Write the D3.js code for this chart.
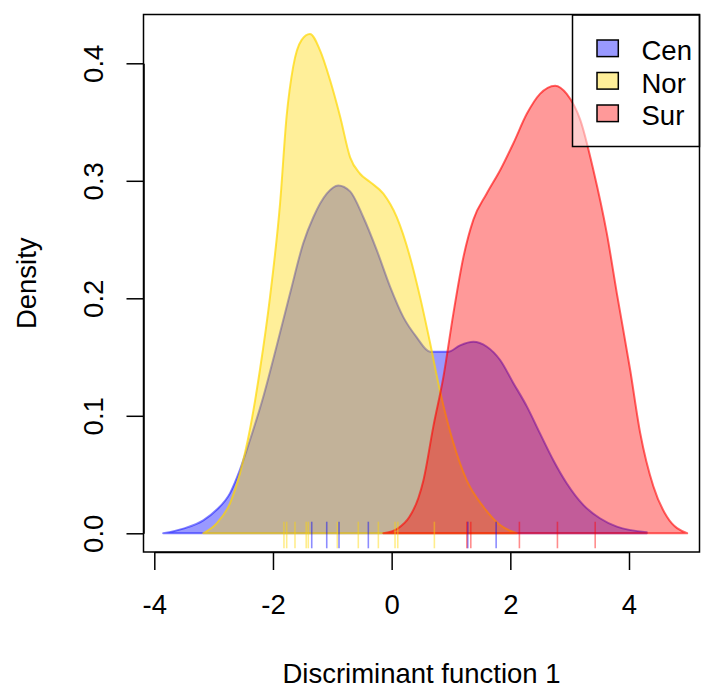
<!DOCTYPE html>
<html>
<head>
<meta charset="utf-8">
<script src="https://cdn.jsdelivr.net/npm/d3@7"></script>
<style>
  html, body { margin: 0; padding: 0; background: #fff; }
  svg { display: block; }
  text { font-family: "Liberation Sans", Arial, sans-serif; fill: #000; }
</style>
</head>
<body>
<svg id="chart" width="701" height="690"></svg>
<script>
// ---- data ----
const categories = ["Cen", "Nor", "Sur"];

const cenX = [-3.85, -3.51, -3.175, -2.95, -2.725, -2.557, -2.39, -2.164, -1.94, -1.713, -1.489, -1.32, -1.094, -0.90, -0.70, -0.477, -0.251, -0.027, 0.197, 0.42, 0.647, 0.956, 1.153, 1.378, 1.60, 1.828, 2.05, 2.278, 2.50, 2.727, 2.95, 3.233, 3.51, 3.795, 4.30];
const cenY = [0.0, 0.004, 0.011, 0.020, 0.034, 0.054, 0.079, 0.116, 0.159, 0.204, 0.247, 0.269, 0.289, 0.296, 0.291, 0.269, 0.241, 0.210, 0.184, 0.167, 0.1546, 0.1546, 0.160, 0.163, 0.159, 0.1475, 0.128, 0.108, 0.085, 0.062, 0.0426, 0.024, 0.0128, 0.0057, 0.001];

const norX = [-3.175, -2.95, -2.725, -2.557, -2.39, -2.22, -2.05, -1.88, -1.77, -1.66, -1.516, -1.376, -1.207, -1.04, -0.87, -0.70, -0.533, -0.364, -0.14, 0.086, 0.31, 0.479, 0.648, 0.816, 1.04, 1.266, 1.546, 1.828, 2.11];
const norY = [0.0, 0.0085, 0.0255, 0.051, 0.088, 0.139, 0.201, 0.281, 0.355, 0.397, 0.420, 0.425, 0.411, 0.386, 0.355, 0.320, 0.306, 0.299, 0.289, 0.269, 0.235, 0.201, 0.162, 0.121, 0.077, 0.045, 0.0226, 0.007, 0.0];

const surX = [-0.14, 0.10, 0.30, 0.45, 0.535, 0.703, 0.872, 1.04, 1.209, 1.378, 1.60, 1.828, 2.052, 2.278, 2.50, 2.756, 2.95, 3.177, 3.40, 3.627, 3.796, 4.02, 4.19, 4.41, 4.64, 4.98];
const surY = [0.0, 0.004, 0.014, 0.030, 0.045, 0.091, 0.133, 0.187, 0.235, 0.267, 0.289, 0.309, 0.332, 0.357, 0.374, 0.381, 0.374, 0.352, 0.309, 0.255, 0.204, 0.139, 0.085, 0.040, 0.014, 0.0];

const cenRug = [-1.347, -1.094, -0.887, -0.393, 1.283, 1.761];
const norRug = [-1.815, -1.769, -1.629, -1.44, -1.405, -0.916, -0.562, -0.224, 0.057, 0.103, 0.72];
const surRug = [1.266, 1.334, 2.153, 2.794, 3.43];

const xTicks = [-4, -2, 0, 2, 4];
const yTicks = [0.0, 0.1, 0.2, 0.3, 0.4];
const yTickLabels = ["0.0", "0.1", "0.2", "0.3", "0.4"];
const xTitle = "Discriminant function 1";
const yTitle = "Density";

// ---- drawing ----
const baseColors = { Cen: "0,0,255", Nor: "255,215,0", Sur: "255,0,0" };
const strokeAlpha = { Cen: 0.5, Nor: 0.7, Sur: 0.6 };
const svg = d3.select("#chart");
const FS = 27.5;

const frame = { left: 143.5, right: 699.5, top: 14.5, bottom: 552 };
const x = d3.scaleLinear().domain([-4, 4]).range([154.3, 629]);
const y = d3.scaleLinear().domain([0, 0.4]).range([533.3, 63.3]);

const series = [
  { name: "Cen", xs: cenX, ys: cenY, rug: cenRug },
  { name: "Nor", xs: norX, ys: norY, rug: norRug },
  { name: "Sur", xs: surX, ys: surY, rug: surRug }
];

const area = d3.area()
  .x(d => x(d[0]))
  .y0(y(0))
  .y1(d => y(d[1]))
  .curve(d3.curveMonotoneX);

const gPlot = svg.append("g");
series.forEach(s => {
  const pts = s.xs.map((v, i) => [v, s.ys[i]]);
  gPlot.append("path")
    .attr("d", area(pts))
    .attr("fill", `rgba(${baseColors[s.name]},0.4)`)
    .attr("stroke", `rgba(${baseColors[s.name]},${strokeAlpha[s.name]})`)
    .attr("stroke-width", 2)
    .attr("stroke-linejoin", "round");
});

// rug
series.forEach(s => {
  gPlot.selectAll(null).data(s.rug).enter().append("line")
    .attr("x1", d => x(d)).attr("x2", d => x(d))
    .attr("y1", y(0) - 11.6).attr("y2", y(0) + 15)
    .attr("stroke", `rgba(${baseColors[s.name]},0.45)`)
    .attr("stroke-width", 1.6);
});

// legend
const lg = svg.append("g");
lg.append("rect")
  .attr("x", 572.5).attr("y", 15).attr("width", 127).attr("height", 131.5)
  .attr("fill", "rgba(255,255,255,0.5)")
  .attr("stroke", "#000").attr("stroke-width", 1.5);
const legY = [48.3, 80.8, 113.3];
categories.forEach((c, i) => {
  lg.append("rect")
    .attr("x", 597).attr("y", legY[i] - 8.3).attr("width", 21.3).attr("height", 16.6)
    .attr("fill", `rgba(${baseColors[c]},0.4)`)
    .attr("stroke", "#000").attr("stroke-width", 1.5);
  lg.append("text")
    .attr("x", 641.5).attr("y", legY[i] + 12)
    .attr("font-size", FS)
    .text(c);
});

// frame
svg.append("rect")
  .attr("x", frame.left).attr("y", frame.top)
  .attr("width", frame.right - frame.left).attr("height", frame.bottom - frame.top)
  .attr("fill", "none").attr("stroke", "#000").attr("stroke-width", 1.5);

// x axis
const gx = svg.append("g").attr("transform", `translate(0,${frame.bottom})`)
  .call(d3.axisBottom(x).tickValues(xTicks).tickSize(18).tickSizeOuter(0).tickPadding(24)
    .tickFormat(d => d < 0 ? "-" + Math.abs(d) : String(d)));
gx.select(".domain").attr("stroke", "#000").attr("stroke-width", 1.5);
gx.selectAll(".tick line").attr("stroke", "#000").attr("stroke-width", 1.5);
gx.selectAll(".tick text").attr("font-size", FS).attr("font-family", "Liberation Sans, Arial, sans-serif").attr("fill", "#000");

// y axis
const gy = svg.append("g").attr("transform", `translate(${frame.left},0)`)
  .call(d3.axisLeft(y).tickValues(yTicks).tickSize(17).tickSizeOuter(0)
    .tickFormat((d, i) => yTickLabels[i]));
gy.select(".domain").attr("stroke", "#000").attr("stroke-width", 1.5);
gy.selectAll(".tick line").attr("stroke", "#000").attr("stroke-width", 1.5);
gy.selectAll(".tick text")
  .attr("font-size", FS).attr("font-family", "Liberation Sans, Arial, sans-serif").attr("fill", "#000")
  .attr("x", null).attr("dy", null)
  .attr("text-anchor", "middle")
  .attr("transform", "translate(-40.2,0) rotate(-90)");

// titles
svg.append("text")
  .attr("x", (frame.left + frame.right) / 2).attr("y", 683)
  .attr("text-anchor", "middle").attr("font-size", FS)
  .text(xTitle);
svg.append("text")
  .attr("transform", `translate(35.5,${(frame.top + frame.bottom) / 2}) rotate(-90)`)
  .attr("text-anchor", "middle").attr("font-size", FS)
  .text(yTitle);
</script>
</body>
</html>
